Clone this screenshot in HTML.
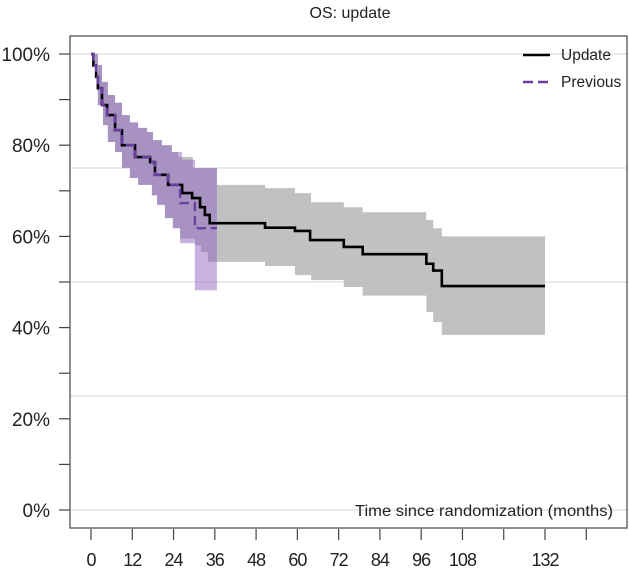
<!DOCTYPE html>
<html><head><meta charset="utf-8"><style>
body{margin:0;background:#fff;}
svg text{font-family:"Liberation Sans",Arial,sans-serif;fill:#222;}
</style></head><body>
<svg id="c" width="629" height="573" xmlns="http://www.w3.org/2000/svg"></svg>
<script>
const xTicks=[0,12,24,36,48,60,72,84,96,108,120,132,144];
const xTickLabels=["0","12","24","36","48","60","72","84","96","108","","132",""];
const yTicks=[0,10,20,30,40,50,60,70,80,90,100];
const yTickLabels=["0%","","20%","","40%","","60%","","80%","","100%"];
const yGrid=[0,25,50,75,100];
const updTime=[0,0.7,1.5,2,3.2,4.7,7,9,12.8,17.2,18.6,22.4,26.5,29.4,31.7,33.1,34.5,50.6,59.3,63.7,73.5,79,97.5,99.5,102];
const updSurv=[100,97.5,95,92.5,88.8,86.6,83.3,80,77.4,76.3,73.5,71.3,69.5,68.4,66.4,64.7,62.9,61.9,61.2,59.2,57.7,56.1,54,52.5,49.1];
const updEnd=132;
const updUpperTime=[0,1.2,3.2,4.9,7,9,11.3,13.7,16.3,18,20.6,23.5,25.3,29.6,36.6,50.6,59.3,64,73.5,79,97.5,99.5,102];
const updUpper=[100,97.6,93.9,91,89.3,86.6,85,83.8,82.9,81.1,80,78.5,77.4,75,71.3,70.6,69.5,67.5,66.4,65.3,63.6,61.8,60];
const updLowerTime=[0,2,3.5,4.9,7,9,11.3,13.7,17.7,19.2,21.5,23.8,25.9,30.2,32,34,50.6,59.3,64,73.5,79,97.5,99.5,102];
const updLower=[100,88.8,84.4,80.7,78.5,75,72.8,71.3,69,66.9,64,61.8,59.5,58,56.6,54.4,53.5,51.5,50.4,48.9,47,43.4,41.2,38.4];
const prevTime=[0,0.7,1.5,2,3.2,4.7,7,9,12.8,17.2,18.6,22.4,25.9,30.2];
const prevSurv=[100,97.5,95,92.5,88.8,86.6,83.3,80,77.4,76.3,73.5,71.3,67.3,61.8];
const prevEnd=36.6;
const prevUpperTime=[0,1.2,3.2,4.9,7,9,11.3,13.7,16.3,18,20.6,23.5,26.5,30.2];
const prevUpper=[100,97.6,93.9,91,89.3,86.6,85,83.8,82.9,81.1,80,78.5,76.8,75];
const prevLowerTime=[0,2,3.5,4.9,7,9,11.3,13.7,17.7,19.2,21.5,23.8,25.9,30.2];
const prevLower=[100,88.8,84.4,80.7,78.5,75,72.8,71.3,69,66.9,64,61.8,58.5,48.2];

const svg=document.getElementById('c');
const NS='http://www.w3.org/2000/svg';
const X=m=>91+m*(454/132);
const Y=p=>510-p*4.56;
function mk(tag,attrs,parent){const e=document.createElementNS(NS,tag);for(const k in attrs)e.setAttribute(k,attrs[k]);(parent||svg).appendChild(e);return e;}
function stepPath(T,S,end){let d='M'+X(T[0])+' '+Y(S[0]);for(let i=1;i<T.length;i++){d+=' H'+X(T[i])+' V'+Y(S[i]);}d+=' H'+X(end);return d;}
function bandPath(TU,U,TL,L,end){let d='M'+X(TU[0])+' '+Y(U[0]);for(let i=1;i<TU.length;i++){d+=' H'+X(TU[i])+' V'+Y(U[i]);}
d+=' H'+X(end)+' V'+Y(L[L.length-1]);for(let i=TL.length-1;i>0;i--){d+=' H'+X(TL[i])+' V'+Y(L[i-1]);}d+=' H'+X(TL[0])+' Z';return d;}

let t=mk('text',{x:350,y:18,'text-anchor':'middle','font-size':16});t.textContent='OS: update';

yGrid.forEach(v=>{const l=mk('line',{x1:70,x2:627,y1:Y(v),y2:Y(v),stroke:'#d6d6d6','stroke-width':1});
});
let b=mk('path',{d:bandPath(updUpperTime,updUpper,updLowerTime,updLower,updEnd),fill:'#c0c1c3'});

b=mk('path',{d:bandPath(prevUpperTime,prevUpper,prevLowerTime,prevLower,prevEnd),fill:'rgb(140,95,190)','fill-opacity':0.48});

let p=mk('path',{d:stepPath(updTime,updSurv,updEnd),fill:'none',stroke:'#000','stroke-width':2.6});

p=mk('path',{d:stepPath(prevTime,prevSurv,prevEnd),fill:'none',stroke:'#6a3fa0','stroke-width':2.4,'stroke-dasharray':'9 5'});

let r=mk('rect',{x:70,y:36,width:557,height:492,fill:'none',stroke:'#444','stroke-width':1.2});

yTicks.forEach((v,i)=>{const l=mk('line',{x1:59,x2:70,y1:Y(v),y2:Y(v),stroke:'#444','stroke-width':1.2});

if(yTickLabels[i]){const tx=mk('text',{x:50,y:Y(v)+7,'text-anchor':'end','font-size':19});tx.textContent=yTickLabels[i];
}});
xTicks.forEach((v,i)=>{const l=mk('line',{x1:X(v),x2:X(v),y1:529,y2:540,stroke:'#444','stroke-width':1.2});

if(xTickLabels[i]){const tx=mk('text',{x:X(v),y:566,'text-anchor':'middle','font-size':18,'letter-spacing':'-1'});tx.textContent=xTickLabels[i];
}});
t=mk('text',{x:355,y:516,'font-size':16,textLength:258,lengthAdjust:'spacingAndGlyphs'});t.textContent='Time since randomization (months)';

const g=mk('g',{});
let ll=mk('line',{x1:523,x2:550,y1:55,y2:55,stroke:'#000','stroke-width':2.6},g);

t=mk('text',{x:561,y:60,'font-size':15.5},g);t.textContent='Update';

ll=mk('line',{x1:523,x2:550,y1:82,y2:82,stroke:'#6a3fa0','stroke-width':2.6,'stroke-dasharray':'10 5'},g);

t=mk('text',{x:561,y:87,'font-size':15.5},g);t.textContent='Previous';

</script>
</body></html>
